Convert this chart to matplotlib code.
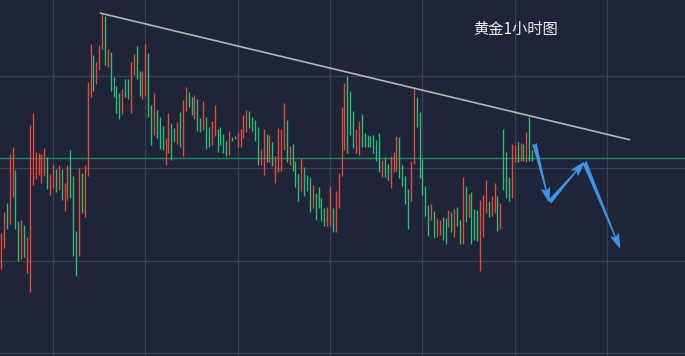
import numpy as np
import matplotlib.pyplot as plt
from matplotlib.patches import FancyArrowPatch

plt.rcParams['font.family'] = ['Noto Sans CJK SC', 'DejaVu Sans']

# 1h candles (high / low, colour)
highs = [
    1943.0, 1945.3, 1946.2, 1951.5, 1952.3, 1949.8, 1944.3, 1944.4, 1943.9, 1942.6,
    1954.7, 1956.0, 1951.8, 1951.7, 1951.5, 1952.2, 1951.2, 1949.4, 1950.4, 1949.9,
    1950.3, 1949.9, 1948.4, 1950.4, 1952.0, 1949.2, 1943.2, 1950.0, 1949.5, 1950.4,
    1959.4, 1963.5, 1962.3, 1961.5, 1963.4, 1966.7, 1966.5, 1962.9, 1962.6, 1959.9,
    1958.9, 1958.2, 1958.6, 1959.7, 1959.7, 1961.5, 1962.4, 1963.3, 1960.5, 1960.5,
    1963.5, 1962.5, 1956.8, 1958.1, 1956.3, 1955.6, 1954.6, 1953.3, 1956.0, 1954.9,
    1954.4, 1955.0, 1956.1, 1957.4, 1958.8, 1958.3, 1957.7, 1957.9, 1957.5, 1955.4,
    1957.3, 1955.6, 1954.5, 1955.1, 1956.9, 1954.3, 1954.5, 1953.7, 1953.0, 1954.0,
    1953.4, 1953.5, 1953.8, 1954.2, 1955.8, 1956.3, 1956.2, 1955.6, 1955.2, 1954.5,
    1952.1, 1954.3, 1953.7, 1953.6, 1952.8, 1951.3, 1954.4, 1954.2, 1957.1, 1955.2,
    1952.4, 1952.6, 1950.8, 1949.4, 1951.1, 1950.1, 1949.3, 1949.0, 1948.2, 1947.3,
    1948.0, 1946.8, 1945.7, 1945.8, 1948.1, 1945.7, 1947.5, 1949.5, 1956.6, 1959.2,
    1960.0, 1958.4, 1956.2, 1954.3, 1955.1, 1955.9, 1953.8, 1953.6, 1953.5, 1953.6,
    1953.1, 1953.8, 1950.9, 1951.2, 1950.5, 1951.3, 1951.8, 1953.5, 1953.4, 1950.4,
    1949.2, 1947.8, 1950.8, 1958.8, 1957.7, 1956.1, 1951.0, 1948.1, 1946.0, 1946.1,
    1945.4, 1944.6, 1944.4, 1944.7, 1944.6, 1945.5, 1945.3, 1945.6, 1945.8, 1944.4,
    1949.1, 1948.1, 1947.2, 1947.4, 1945.6, 1945.5, 1946.6, 1947.1, 1948.7, 1946.4,
    1947.0, 1948.4, 1947.0, 1946.2, 1954.2, 1951.8, 1949.1, 1952.6, 1952.5, 1952.8,
    1952.7, 1952.6, 1953.9, 1955.5, 1952.0,
]
lows = [
    1939.1, 1941.4, 1943.4, 1944.0, 1946.9, 1943.4, 1940.0, 1940.2, 1940.4, 1938.6,
    1936.6, 1948.2, 1948.8, 1949.3, 1948.4, 1949.2, 1947.7, 1947.1, 1947.9, 1947.4,
    1947.6, 1946.6, 1945.4, 1946.6, 1946.8, 1940.5, 1938.3, 1940.5, 1945.2, 1944.7,
    1949.2, 1957.7, 1958.4, 1959.1, 1960.6, 1962.9, 1961.2, 1961.0, 1958.4, 1957.7,
    1956.0, 1955.3, 1955.9, 1957.7, 1957.5, 1956.0, 1960.1, 1959.7, 1957.8, 1957.5,
    1957.8, 1955.5, 1952.5, 1953.6, 1953.3, 1952.1, 1952.0, 1950.4, 1951.6, 1950.9,
    1952.8, 1952.6, 1952.3, 1951.3, 1956.2, 1956.6, 1955.8, 1955.3, 1954.0, 1953.9,
    1954.1, 1952.1, 1952.3, 1952.5, 1953.5, 1951.8, 1952.5, 1951.7, 1951.3, 1951.4,
    1953.0, 1953.2, 1952.3, 1952.3, 1953.3, 1953.9, 1954.4, 1954.0, 1952.9, 1950.4,
    1950.3, 1949.3, 1950.7, 1950.7, 1950.2, 1948.4, 1949.6, 1949.7, 1952.0, 1950.7,
    1950.3, 1949.7, 1948.0, 1946.5, 1947.5, 1947.0, 1947.5, 1945.3, 1945.7, 1944.4,
    1945.7, 1944.3, 1943.7, 1943.7, 1943.7, 1943.1, 1943.1, 1945.7, 1949.2, 1952.0,
    1951.6, 1953.6, 1952.2, 1951.6, 1951.4, 1952.3, 1952.3, 1952.3, 1952.3, 1951.6,
    1950.8, 1949.6, 1949.1, 1949.0, 1948.7, 1947.9, 1949.6, 1949.7, 1948.9, 1948.1,
    1946.1, 1943.4, 1946.4, 1950.5, 1954.5, 1948.9, 1947.1, 1944.8, 1942.7, 1944.4,
    1942.4, 1942.5, 1942.8, 1942.2, 1941.8, 1943.6, 1943.1, 1942.6, 1943.7, 1941.8,
    1941.8, 1944.2, 1944.7, 1941.8, 1942.2, 1942.1, 1938.9, 1942.6, 1945.1, 1944.7,
    1944.8, 1945.2, 1943.2, 1943.4, 1947.6, 1946.8, 1946.5, 1946.8, 1950.7, 1950.7,
    1950.8, 1950.8, 1950.7, 1950.8, 1950.8,
]
# r = down candle, g = up candle
sides = ('rrgrrggrgr' 'rrrrrrgrrg' 'rgrrgggrgr' 'rrgrrrgrgg' 'ggrggrrggr'
         'rggrgggrrg' 'grgrrggrgg' 'rggrrggggr' 'ggrrrrgggg' 'rrgrgrrrrg'
         'rgggrgggrg' 'gggrrgrrrr' 'gggrrggggg' 'ggrggrrrgg' 'ggrrgggggr'
         'grrggrgrgg' 'rgrgggrrrg' 'rrgrgggrrg' 'rgrgg')

support = 1951.1
trend_x = [34.5, 217.7]
trend_y = [1966.8, 1953.1]
# projected path: down, up, down
path_x = [184.8, 189.9, 202.1, 214.5]
path_y = [1952.7, 1946.3, 1950.7, 1941.3]

bg = '#1e2538'
up_c = '#2bbf7a'
dn_c = '#ec4a3c'

fig = plt.figure(figsize=(6.85, 3.56), dpi=100, facecolor=bg)
ax = fig.add_axes([0, 0, 1, 1])
ax.set_facecolor(bg)

x = np.arange(len(highs))
cols = [up_c if s == 'g' else dn_c for s in sides]
ax.vlines(x, lows, highs, colors=cols, linewidth=0.95, zorder=3)

ax.axhline(support, color='#21875c', linewidth=1.0, zorder=2)
ax.plot(trend_x, trend_y, color='#b3b5ba', linewidth=1.2, zorder=4)

for i in range(3):
    arr = FancyArrowPatch((path_x[i], path_y[i]), (path_x[i + 1], path_y[i + 1]),
                          arrowstyle='fancy,head_length=11,head_width=6.5,tail_width=3.4',
                          color='#3d94e8', linewidth=0, zorder=5,
                          shrinkA=0, shrinkB=0)
    ax.add_patch(arr)

ax.text(0.752, 0.918, '黄金1小时图', transform=ax.transAxes, color='#eef0f4',
        fontsize=11, ha='center', va='center')

ax.set_xlim(-0.36, 236.98)
ax.set_ylim(1929.66, 1968.23)
ax.set_xticks(range(18, 237, 32))
ax.set_yticks([1930, 1940, 1950, 1960])
ax.grid(True, color='#3a4155', linewidth=0.9)
ax.tick_params(length=0, labelbottom=False, labelleft=False)
for sp in ax.spines.values():
    sp.set_visible(False)

fig.savefig('out.png', dpi=100, facecolor=bg)
